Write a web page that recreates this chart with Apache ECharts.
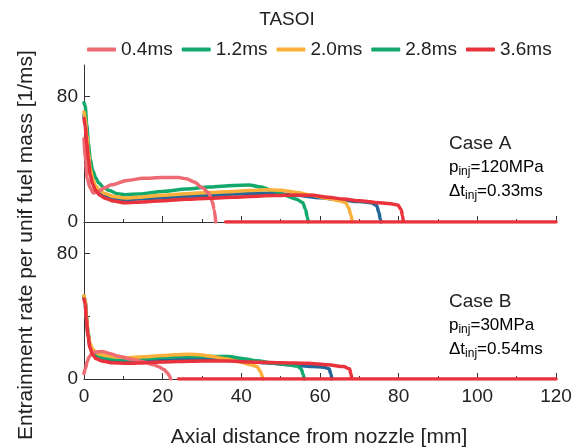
<!DOCTYPE html>
<html>
<head>
<meta charset="utf-8">
<script src="https://cdn.jsdelivr.net/npm/echarts@6/dist/echarts.min.js"></script>
<style>
  html, body { margin: 0; padding: 0; background: #fff; }
  #chart { width: 581px; height: 448px; }
</style>
</head>
<body>
<div id="chart"></div>
<script>
// legend names (TASOI)
const names = ['0.4ms', '1.2ms', '2.0ms', '2.8ms', '3.6ms'];
const xTicks = [0, 20, 40, 60, 80, 100, 120];

// Case A: pinj = 120 MPa, [x mm, rate 1/ms]
const caseA_04 = [[0, 53], [0.4, 38], [0.8, 28], [1.5, 22], [2.4, 18.5], [3.7, 19.5], [5, 21.5], [7, 23.7], [11, 26.5], [15, 27.8], [20, 28.4], [24, 28.3], [26, 27.6], [28, 25.5], [30, 22], [31.7, 18.5], [32.6, 13], [33.1, 8], [33.5, 0]];
const caseA_12 = [[0, 76], [0.3, 74], [0.7, 62], [1.1, 50], [1.6, 40], [2.2, 33], [3, 28], [3.7, 25], [5, 22], [6.5, 20], [8.5, 18], [10.5, 17.4], [14, 17.8], [20, 19.5], [26, 21], [32, 22.3], [38, 23.3], [42, 23.5], [45, 22.3], [48, 20], [51, 17], [54, 14.5], [55.6, 12.5], [56.3, 8], [56.8, 3], [57, 0]];
const caseA_20 = [[0, 70], [0.3, 66], [0.7, 55], [1.1, 44], [1.6, 34], [2.2, 27], [3, 23], [4, 20], [5.5, 18], [7.5, 16.3], [10.5, 15.3], [15, 16], [20, 17], [26, 18], [32, 18.8], [38, 19.5], [42, 20], [46, 20.5], [50, 20.3], [54, 18.8], [58, 17], [62, 15], [65, 13.5], [66.5, 12.3], [67.3, 9], [67.8, 5], [68.2, 0]];
const caseA_28 = [[0, 68], [0.3, 63], [0.7, 52], [1.1, 42], [1.6, 32], [2.2, 26], [3, 21.5], [4, 18.5], [5.5, 16.5], [7.5, 15], [10.5, 14.2], [15, 14.8], [20, 15.5], [26, 16.2], [32, 16.8], [38, 17.8], [42, 18.2], [48, 18.3], [54, 17], [60, 15.5], [65, 14.2], [70, 13], [73, 12.3], [74.4, 10.5], [75, 6], [75.3, 2], [75.5, 0]];
const caseA_36 = [[0, 66], [0.3, 61], [0.7, 50], [1.1, 40], [1.6, 30], [2.2, 24], [3, 20], [4, 17], [5.5, 15], [7.5, 13.3], [10.5, 12.2], [15, 12.8], [20, 13.6], [26, 14.5], [32, 15.2], [38, 15.8], [42, 16.2], [48, 16.8], [54, 17.2], [58, 17], [62, 15.8], [66, 14.6], [70, 13.5], [74, 12.5], [78, 11.6], [79.8, 10.8], [80.6, 8], [81, 4], [81.2, 0], [81.3, '-'], [36, 0], [120, 0]];

// Case B: pinj = 30 MPa
const caseB_04 = [[0, 3.5], [0.4, 7], [0.8, 11], [1.3, 14], [2, 16], [3, 17.2], [4.5, 17.5], [6.5, 16.3], [8.8, 14.5], [12, 12.6], [15.5, 10.7], [17.5, 9.3], [19, 7.8], [20.3, 6], [21.2, 4], [21.7, 2], [22, 0]];
const caseB_12 = [[0, 53], [0.3, 50], [0.6, 40], [1, 30], [1.5, 22], [2.2, 17.5], [3, 15.5], [4.5, 13.8], [7, 12.8], [11.3, 12.2], [16, 13], [20, 13.8], [24, 14.3], [30, 14.4], [36.7, 14.3], [41, 12.8], [44, 11.6], [48.3, 10], [52, 9], [54.2, 8.3], [55.2, 6.5], [55.7, 3], [56, 0]];
const caseB_20 = [[0, 53], [0.3, 50], [0.6, 40], [1, 30], [1.5, 23], [2.2, 19], [3, 17], [4, 15.8], [5.4, 14.9], [8, 14], [11.3, 13.6], [15, 14.2], [19.8, 14.9], [23, 15.5], [26.6, 15.8], [30, 15.3], [32.5, 14.3], [36, 12.8], [39.3, 11.1], [42, 9.3], [44, 7.9], [44.8, 5], [45.3, 2], [45.5, 0]];
const caseB_28 = [[0, 52], [0.3, 49], [0.6, 39], [1, 29], [1.5, 21], [2.2, 16.5], [3, 14.5], [4.5, 12.8], [7, 11.6], [11.3, 11.1], [16, 11.5], [20, 12], [24, 12.2], [30, 12.6], [36.7, 12.8], [39.8, 12], [46, 10.3], [52.5, 9], [58, 8], [61, 7.5], [62.3, 6.5], [62.8, 3], [63, 0]];
const caseB_36 = [[0, 51], [0.3, 48], [0.6, 38], [1, 28], [1.5, 20], [2.2, 15.5], [3, 13], [4.5, 11.5], [7, 10.4], [11.3, 10], [16, 10.4], [20, 10.8], [24, 11.1], [30, 11.4], [36.7, 11.5], [39.8, 11], [45, 10.6], [50, 10.3], [56.8, 10], [62, 9], [66, 7.9], [67.5, 6.5], [67.9, 3], [68.1, 0], [68.2, '-'], [24, 0], [120, 0]];

const colors = {
    '0.4ms': '#ef6b73',
    '1.2ms': '#13a96c',
    '2.0ms': '#fbb03b',
    '2.8ms': '#24689a',
    '3.6ms': '#e8323c'
};

const FONT = 'Liberation Sans, Arial, sans-serif';
const TXT = '#222';

document.addEventListener('DOMContentLoaded', () => {
    const chart = echarts.init(document.getElementById('chart'));

    const mkLine = (name, data, idx) => ({
        name: name,
        type: 'line',
        xAxisIndex: idx,
        yAxisIndex: idx,
        data: data,
        showSymbol: false,
        smooth: 0.3,
        smoothMonotone: 'x',
        itemStyle: { color: colors[name] },
        lineStyle: { color: colors[name], width: 3.5, cap: 'round', join: 'round' },
        emphasis: { disabled: true }
    });

    const xAxis = (idx) => ({
        type: 'value',
        gridIndex: idx,
        min: 0,
        max: 120,
        interval: 20,
        axisLine: { lineStyle: { color: '#333', width: 1 } },
        axisTick: { inside: true, length: 6, lineStyle: { color: '#333' } },
        minorTick: { show: true, splitNumber: 2, length: 3, lineStyle: { color: '#333' } },
        splitLine: { show: false },
        axisLabel: {
            show: idx === 1,
            fontSize: 19,
            color: TXT,
            fontFamily: FONT,
            margin: 8,
            customValues: xTicks
        }
    });

    const yAxis = (idx) => ({
        type: 'value',
        gridIndex: idx,
        min: 0,
        max: 100,
        axisLine: { show: true, lineStyle: { color: '#333', width: 1 } },
        axisTick: { show: true, inside: true, length: 6, customValues: [0, 40, 80], lineStyle: { color: '#333' } },
        splitLine: { show: false },
        axisLabel: { fontSize: 19, color: TXT, fontFamily: FONT, margin: 6, customValues: [0, 80] }
    });

    const sub = {
        b: { fontSize: 17, color: TXT, fontFamily: FONT },
        s: { fontSize: 12, color: TXT, fontFamily: FONT, padding: [9, 0, 0, 0] }
    };

    const caseText = (x, y, title, p, dt) => ([
        { type: 'text', left: x, top: y, style: { text: title, fontSize: 19, fill: TXT, fontFamily: FONT } },
        { type: 'text', left: x, top: y + 25, style: { text: '{b|p}{s|inj}{b|=' + p + '}', rich: sub } },
        { type: 'text', left: x, top: y + 49, style: { text: '{b|\u0394t}{s|inj}{b|=' + dt + '}', rich: sub } }
    ]);

    const option = {
        animation: false,
        legend: {
            data: names.map(n => n === '2.8ms'
                ? { name: n, itemStyle: { color: colors['1.2ms'] } }
                : { name: n }),
            left: 82,
            top: 35,
            icon: 'roundRect',
            itemWidth: 29,
            itemHeight: 4,
            itemGap: 9,
            textStyle: { fontSize: 19, color: TXT, fontFamily: FONT }
        },
        grid: [
            { left: 84, width: 472, top: 65, height: 157 },
            { left: 84, width: 472, top: 222, height: 157 }
        ],
        xAxis: [xAxis(0), xAxis(1)],
        yAxis: [yAxis(0), yAxis(1)],
        series: [
            mkLine('2.8ms', caseA_28, 0),
            mkLine('1.2ms', caseA_12, 0),
            mkLine('2.0ms', caseA_20, 0),
            mkLine('0.4ms', caseA_04, 0),
            mkLine('3.6ms', caseA_36, 0),
            mkLine('2.8ms', caseB_28, 1),
            mkLine('1.2ms', caseB_12, 1),
            mkLine('2.0ms', caseB_20, 1),
            mkLine('0.4ms', caseB_04, 1),
            mkLine('3.6ms', caseB_36, 1)
        ],
        graphic: [
            { type: 'text', x: 287, y: 20, style: { text: 'TASOI', fontSize: 19, fill: TXT, fontFamily: FONT, align: 'center', verticalAlign: 'middle' } },
            { type: 'text', x: 26, y: 245, rotation: Math.PI / 2, style: { text: 'Entrainment rate per unif fuel mass [1/ms]', fontSize: 21, fill: TXT, fontFamily: FONT, align: 'center', verticalAlign: 'middle' } },
            { type: 'text', x: 319, y: 437, style: { text: 'Axial distance from nozzle [mm]', fontSize: 21, fill: TXT, fontFamily: FONT, align: 'center', verticalAlign: 'middle' } }
        ].concat(
            caseText(449, 134, 'Case A', '120MPa', '0.33ms'),
            caseText(449, 292, 'Case B', '30MPa', '0.54ms')
        )
    };

    chart.setOption(option);

    window.addEventListener('resize', () => {
        chart.resize();
    });
});
</script>
</body>
</html>
